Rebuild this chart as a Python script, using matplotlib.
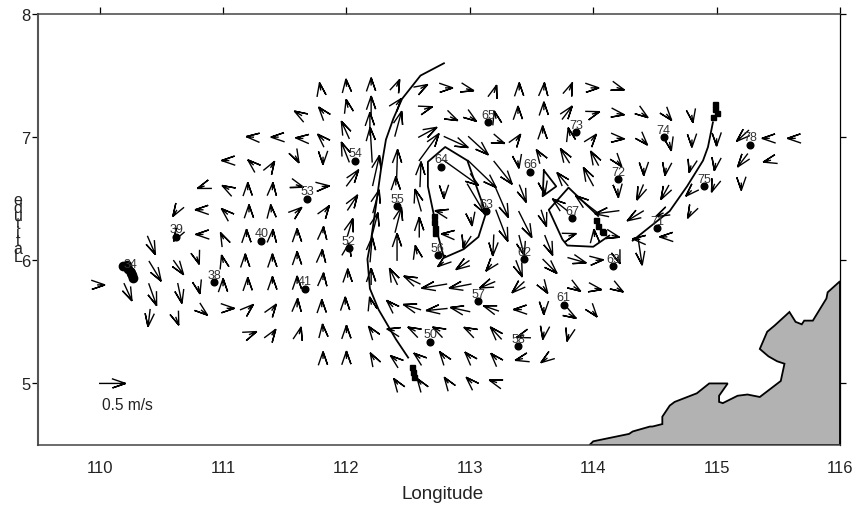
import math

import matplotlib
matplotlib.use("Agg")
import matplotlib.pyplot as plt
from matplotlib.patches import Polygon

plt.rcParams["font.family"] = ["Liberation Sans", "DejaVu Sans"]

# current vectors: centre position (deg) and components (m/s), one line per column
arrow_lon = [
    109.99, 110.23, 110.42, 110.45, 110.43, 110.40, 110.62, 110.62, 110.64, 110.65, 110.62,
    110.84, 110.83, 110.83, 110.79, 110.80, 110.83,
    111.04, 111.04, 111.03, 111.00, 111.00, 111.00, 111.04,
    111.24, 111.24, 111.20, 111.21, 111.19, 111.18, 111.20, 111.21, 111.22,
    111.44, 111.39, 111.40, 111.39, 111.40, 111.40, 111.40, 111.40, 111.40,
    111.63, 111.64, 111.59, 111.60, 111.59, 111.60, 111.60, 111.60, 111.60, 111.62,
    111.79, 111.81, 111.81, 111.81, 111.81, 111.83, 111.81, 111.80, 111.81, 111.80, 111.81, 111.81,
    112.00, 112.01, 111.99, 111.99, 112.05, 112.05, 112.03, 112.01, 112.01, 111.99, 112.00, 112.00,
    112.20, 112.20, 112.19, 112.20, 112.24, 112.24, 112.23, 112.20, 112.20, 112.20, 112.21, 112.22,
    112.41, 112.41, 112.42, 112.41, 112.40, 112.42, 112.41, 112.38, 112.37, 112.38, 112.40, 112.41,
    112.61, 112.64, 112.66, 112.67, 112.60, 112.58, 112.59, 112.57, 112.53, 112.53, 112.55, 112.59, 112.60,
    112.81, 112.85, 112.89, 112.93, 112.79, 112.77, 112.82, 112.78, 112.71, 112.73, 112.75, 112.79, 112.82,
    112.98, 113.01, 113.07, 113.10, 113.05, 113.01, 112.96, 112.94, 112.92, 112.92, 113.00, 113.00, 113.01,
    113.20, 113.21, 113.23, 113.27, 113.26, 113.26, 113.19, 113.17, 113.14, 113.17, 113.21, 113.21, 113.21,
    113.40, 113.39, 113.38, 113.39, 113.43, 113.45, 113.42, 113.40, 113.39, 113.41, 113.43, 113.42,
    113.60, 113.60, 113.59, 113.57, 113.60, 113.60, 113.64, 113.65, 113.60, 113.60, 113.60, 113.62,
    113.81, 113.79, 113.81, 113.77, 113.75, 113.73, 113.81, 113.87, 113.85, 113.81, 113.80,
    113.99, 114.00, 113.99, 114.01, 113.96, 113.94, 114.01, 114.03, 114.02, 114.00,
    114.20, 114.20, 114.20, 114.20, 114.20, 114.11, 114.16, 114.20, 114.20,
    114.40, 114.40, 114.41, 114.38, 114.34, 114.37, 114.38,
    114.60, 114.62, 114.59, 114.58, 114.56, 114.59,
    114.80, 114.80, 114.79, 114.79, 114.79,
    115.00, 114.99, 114.98,
    115.21, 115.21, 115.20,
    115.42, 115.43,
    115.63,
]
arrow_lat = [
    5.80, 5.74, 6.12, 5.91, 5.72, 5.53, 6.40, 6.19, 5.94, 5.73, 5.53,
    6.60, 6.41, 6.21, 6.02, 5.78, 5.59,
    6.81, 6.58, 6.38, 6.18, 5.99, 5.80, 5.61,
    7.00, 6.78, 6.58, 6.40, 6.20, 6.00, 5.81, 5.61, 5.40,
    7.00, 6.76, 6.58, 6.40, 6.20, 6.00, 5.82, 5.60, 5.40,
    7.18, 6.99, 6.84, 6.61, 6.39, 6.21, 6.02, 5.82, 5.63, 5.41,
    7.39, 7.20, 6.98, 6.83, 6.60, 6.40, 6.23, 6.04, 5.85, 5.63, 5.43, 5.21,
    7.42, 7.25, 7.06, 6.88, 6.67, 6.47, 6.27, 6.08, 5.87, 5.65, 5.42, 5.21,
    7.43, 7.26, 7.11, 6.94, 6.73, 6.48, 6.29, 6.09, 5.87, 5.65, 5.42, 5.20,
    7.42, 7.27, 7.11, 6.77, 6.62, 6.33, 6.11, 5.87, 5.63, 5.43, 5.19, 5.00,
    7.40, 7.23, 7.04, 6.92, 6.70, 6.49, 6.27, 6.06, 5.84, 5.62, 5.43, 5.21, 5.00,
    7.40, 7.16, 6.96, 6.71, 6.55, 6.39, 6.21, 5.98, 5.79, 5.60, 5.43, 5.21, 5.01,
    7.39, 7.16, 6.93, 6.70, 6.50, 6.34, 6.15, 5.96, 5.79, 5.60, 5.43, 5.21, 5.01,
    7.37, 7.16, 6.97, 6.71, 6.47, 6.28, 6.12, 5.96, 5.80, 5.61, 5.41, 5.20, 5.01,
    7.39, 7.20, 6.98, 6.80, 6.54, 6.29, 6.12, 5.93, 5.78, 5.60, 5.39, 5.20,
    7.39, 7.23, 7.04, 6.85, 6.58, 6.34, 6.12, 5.95, 5.78, 5.61, 5.41, 5.20,
    7.39, 7.20, 7.02, 6.85, 6.66, 6.45, 6.20, 6.00, 5.78, 5.56, 5.39,
    7.40, 7.19, 6.98, 6.83, 6.68, 6.46, 6.20, 6.00, 5.77, 5.58,
    7.40, 7.19, 6.99, 6.80, 6.57, 6.39, 6.20, 6.02, 5.77,
    7.19, 6.98, 6.74, 6.55, 6.36, 6.17, 6.07,
    7.18, 6.95, 6.74, 6.55, 6.38, 6.19,
    7.17, 6.97, 6.76, 6.56, 6.39,
    6.98, 6.78, 6.61,
    7.01, 6.81, 6.62,
    6.99, 6.81,
    6.99,
]
arrow_u = [
    .25, .15, .15, .23, .15, -.04, -.13, -.10, .19, .08, .10,
    -.23, -.27, -.25, .08, .06, .21,
    -.25, -.23, -.21, -.10, -.06, 0, .25,
    -.25, -.19, 0, 0, 0, 0, 0, .17, .25,
    -.25, .13, .02, -.02, .02, 0, 0, .15, .13,
    -.25, -.25, .12, .25, .23, 0, 0, 0, .02, .06,
    -.04, -.17, -.21, 0, .25, .15, .02, .02, .02, 0, -.02, 0,
    -.02, -.06, -.15, -.15, .23, .19, .10, .06, 0, 0, 0, 0,
    0, 0, 0, -.04, .13, .12, .12, .04, 0, -.06, -.15, -.13,
    .10, .17, .13, .02, 0, .12, 0, -.15, -.21, -.25, -.21, -.13,
    .23, .27, .35, .38, .02, -.12, 0, -.06, -.31, -.33, -.25, -.21, -.13,
    .25, .25, .46, .67, 0, -.25, -.25, -.19, -.48, -.40, -.25, -.17, -.13,
    .25, .21, .38, .54, .33, .04, -.06, -.25, -.42, -.37, -.23, -.19, -.19,
    .08, -.06, .25, .35, .25, .23, -.02, -.19, -.29, -.29, -.21, -.19, -.25,
    0, 0, .15, .04, .13, .25, .10, .12, -.23, -.27, -.25, -.25,
    .02, 0, 0, -.15, .04, .10, .15, .27, .15, 0, -.04, -.21,
    .10, .19, -.06, -.17, -.21, -.29, .25, .35, .23, .25, -.06,
    .27, .25, .17, -.15, -.19, -.40, -.02, .25, .23, .15,
    .25, .25, .25, .15, .02, -.46, .25, .08, .21,
    .21, .19, 0, -.12, -.31, -.25, .08,
    .17, .06, -.04, -.15, -.25, -.25,
    .04, 0, -.06, -.19, -.12,
    0, -.04, -.10,
    -.23, -.19, 0,
    -.25, -.25,
    -.27,
]
arrow_v = [
    0, -.33, -.35, -.38, -.42, -.33, -.21, -.17, -.27, -.38, -.27,
    -.08, 0, 0, -.25, -.25, -.17,
    0, .13, .19, .21, .25, .25, 0,
    .02, .17, .25, .25, .25, .25, .25, .15, .10,
    0, .21, .25, .25, .25, .25, .23, .21, .19,
    .15, .02, -.23, -.08, .19, .23, .25, .25, .29, .23,
    .25, .21, .21, -.25, .02, .21, .21, .23, .23, .25, .25, .23,
    .25, .27, .33, .38, .31, .29, .33, .29, .29, .25, .25, .25,
    .25, .35, .44, .67, .58, .44, .46, .48, .31, .25, .21, .23,
    .23, .21, .48, .62, .29, .48, .52, .31, .21, .06, .17, .19,
    .13, .08, .19, .52, .48, .42, .38, .29, .15, .10, .13, .17, .19,
    0, -.12, -.21, -.48, -.23, .06, .02, -.15, -.08, -.04, .13, .23, .19,
    -.06, -.15, -.35, -.52, -.56, -.29, -.25, -.17, -.08, .08, .12, .21, .19,
    .25, .25, -.10, -.44, -.58, -.60, -.40, -.23, -.12, .10, .23, .21, .08,
    .25, .25, .21, -.25, -.33, -.50, -.38, -.31, -.21, 0, -.08, -.06,
    .25, .27, .25, .23, -.23, -.31, -.38, -.27, -.23, -.25, -.25, -.15,
    .25, .25, .27, .27, .25, .23, .08, -.10, -.15, -.15, -.23,
    0, .08, .21, .27, .35, .31, .25, .02, -.04, -.19,
    -.08, -.04, -.02, -.19, -.29, -.06, -.06, -.23, -.13,
    -.15, -.21, -.25, -.29, -.19, .02, -.52,
    -.21, -.29, -.25, -.27, -.12, 0,
    -.25, -.25, -.23, -.19, -.23,
    -.25, -.25, -.27,
    -.21, -.25, -.25,
    0, -.06,
    0,
]

# CTD stations
station_names = ["34", "39", "40", "38", "41", "53", "54", "55", "52", "50", "56", "64", "63", "65",
                 "66", "73", "74", "72", "67", "62", "57", "58", "61", "69", "71", "75", "78"]
station_lon = [110.25, 110.62, 111.31, 110.93, 111.66, 111.68, 112.07, 112.41, 112.02, 112.68, 112.74,
               112.77, 113.13, 113.15, 113.49, 113.86, 114.57, 114.20, 113.83, 113.44, 113.07, 113.39,
               113.76, 114.16, 114.52, 114.90, 115.27]
station_lat = [5.91, 6.19, 6.16, 5.82, 5.77, 6.50, 6.81, 6.44, 6.10, 5.34, 6.04, 6.76, 6.40, 7.12,
               6.72, 7.04, 7.00, 6.66, 6.34, 6.01, 5.67, 5.30, 5.64, 5.95, 6.26, 6.60, 6.94]

# fixes bunched around station 34
blob_lon = [110.19, 110.22, 110.23, 110.25, 110.26, 110.27]
blob_lat = [5.95, 5.96, 5.93, 5.90, 5.88, 5.86]

# drifter tracks
track1_lon = [112.79, 112.60, 112.45, 112.38, 112.32, 112.28, 112.23, 112.20, 112.17, 112.19, 112.26, 112.40, 112.50]
track1_lat = [7.60, 7.50, 7.31, 7.15, 6.98, 6.74, 6.38, 6.17, 6.01, 5.77, 5.60, 5.36, 5.21]
track2_lon = [112.71, 112.66, 112.66, 112.80, 112.98, 113.13, 113.07, 112.95, 112.79, 112.74, 112.71]
track2_lat = [6.36, 6.60, 6.80, 6.92, 6.81, 6.38, 6.19, 6.09, 6.02, 6.21, 6.29]
track3_lon = [113.60, 113.70, 113.59, 113.60]
track3_lat = [6.73, 6.60, 6.52, 6.73]
track4_lon = [114.04, 113.80, 113.64, 113.75, 113.79, 114.00, 114.13]
track4_lat = [6.36, 6.59, 6.41, 6.17, 6.12, 6.11, 6.20]
track5_lon = [114.97, 114.93, 114.89, 114.76, 114.62, 114.32]
track5_lat = [7.12, 6.92, 6.81, 6.60, 6.40, 6.16]

# track end fixes
fix_lon = [112.53, 112.54, 112.55, 112.71, 112.71, 112.72, 112.72,
           114.02, 114.04, 114.07, 114.08, 114.99, 114.99, 115.00, 114.97]
fix_lat = [5.13, 5.09, 5.05, 6.36, 6.31, 6.26, 6.22,
           6.33, 6.28, 6.24, 6.23, 7.27, 7.23, 7.20, 7.16]

# coast
land_lon = [113.97, 114.00, 114.29, 114.32, 114.46, 114.48, 114.56, 114.56, 114.62, 114.66, 114.84, 114.94,
            115.09, 115.02, 115.02, 115.05, 115.17, 115.25, 115.35, 115.52, 115.55, 115.49, 115.42, 115.35,
            115.41, 115.47, 115.59, 115.64, 115.69, 115.71, 115.78, 115.89, 115.90, 116.00, 116.00]
land_lat = [4.50, 4.53, 4.59, 4.61, 4.65, 4.65, 4.67, 4.73, 4.82, 4.85, 4.92, 5.00,
            5.00, 4.90, 4.85, 4.84, 4.90, 4.91, 4.89, 5.02, 5.16, 5.18, 5.22, 5.28,
            5.42, 5.47, 5.58, 5.50, 5.48, 5.51, 5.51, 5.69, 5.74, 5.83, 4.50]

x_ticks = [110, 111, 112, 113, 114, 115, 116]
y_ticks = [5, 6, 7, 8]

DEG_PER_MS = 0.42   # arrow length on the map for 1 m/s
BARB_LEN = 0.112    # deg, same for every arrow
BARB_ANGLE = math.radians(19)
SHORT_SPEED = 0.3   # below this the head swallows most of the shaft


def draw_arrow(ax, lon, lat, u, v):
    dx = u * DEG_PER_MS
    dy = v * DEG_PER_MS
    x1, y1 = lon + dx / 2, lat + dy / 2
    frac = 0.55 if math.hypot(u, v) < SHORT_SPEED else 1.0
    x0, y0 = x1 - dx * frac, y1 - dy * frac
    theta = math.atan2(dy, dx)
    xs = [x0, x1, x1 - BARB_LEN * math.cos(theta + BARB_ANGLE), x1, x1 - BARB_LEN * math.cos(theta - BARB_ANGLE)]
    ys = [y0, y1, y1 - BARB_LEN * math.sin(theta + BARB_ANGLE), y1, y1 - BARB_LEN * math.sin(theta - BARB_ANGLE)]
    ax.plot(xs, ys, color="black", linewidth=1.0, solid_joinstyle="miter", zorder=4)


fig = plt.figure(figsize=(8.58, 5.06), dpi=100)
ax = fig.add_axes([38 / 858, 60 / 506, 802 / 858, 431 / 506])

ax.add_patch(Polygon(list(zip(land_lon, land_lat)), closed=True,
                     facecolor="#b2b2b2", edgecolor="black", linewidth=1.3, zorder=1))

for lons, lats in [(track1_lon, track1_lat), (track2_lon, track2_lat), (track3_lon, track3_lat),
                   (track4_lon, track4_lat), (track5_lon, track5_lat)]:
    ax.plot(lons, lats, color="black", linewidth=1.3, zorder=3)
ax.plot(fix_lon, fix_lat, "s", color="black", markersize=3.6, zorder=3)

for lon, lat, u, v in zip(arrow_lon, arrow_lat, arrow_u, arrow_v):
    draw_arrow(ax, lon, lat, u, v)

ax.plot(station_lon, station_lat, "o", color="black", markersize=4.8, zorder=5)
ax.plot(blob_lon, blob_lat, "o", color="black", markersize=6, zorder=5)
for name, lon, lat in zip(station_names, station_lon, station_lat):
    ax.annotate(name, (lon, lat), xytext=(0, 1), textcoords="offset points",
                ha="center", va="bottom", fontsize=9, color="#333333", zorder=6)

# scale arrow
draw_arrow(ax, 110.105, 5.0, 0.5, 0)
ax.text(110.02, 4.83, "0.5 m/s", fontsize=11.2, ha="left", va="center", color="#222222")

ax.set_xlim(109.5, 116)
ax.set_ylim(4.5, 8)
ax.set_xticks(x_ticks)
ax.set_yticks(y_ticks)
ax.tick_params(axis="x", top=True, bottom=False, direction="out", length=5, width=0.9,
               labelsize=12, pad=5.7, labelcolor="#222222")
ax.tick_params(axis="y", left=True, right=True, direction="out", length=4.5, width=0.9,
               labelsize=12, pad=1, labelcolor="#222222")
for lab in ax.get_xticklabels():
    lab.set_clip_on(False)

ax.spines["left"].set(color="#555555", linewidth=1.5)
ax.spines["top"].set(color="#444444", linewidth=1.1)
ax.spines["bottom"].set(color="#444444", linewidth=1.1)
ax.spines["right"].set(color="black", linewidth=0.9)

ax.set_xlabel("Longitude", fontsize=13.6, color="#222222")
ax.xaxis.set_label_coords(0.505, -0.092)
# the y label comes out as upright letters stacked over each other in the original
fig.text(18 / 858, 1 - 229 / 506, "e\nd\nu\nt\ni\nt\na\nL", fontsize=11.5, ha="center", va="center",
         linespacing=0.42, color="#222222")

fig.savefig("out.png", dpi=100)
